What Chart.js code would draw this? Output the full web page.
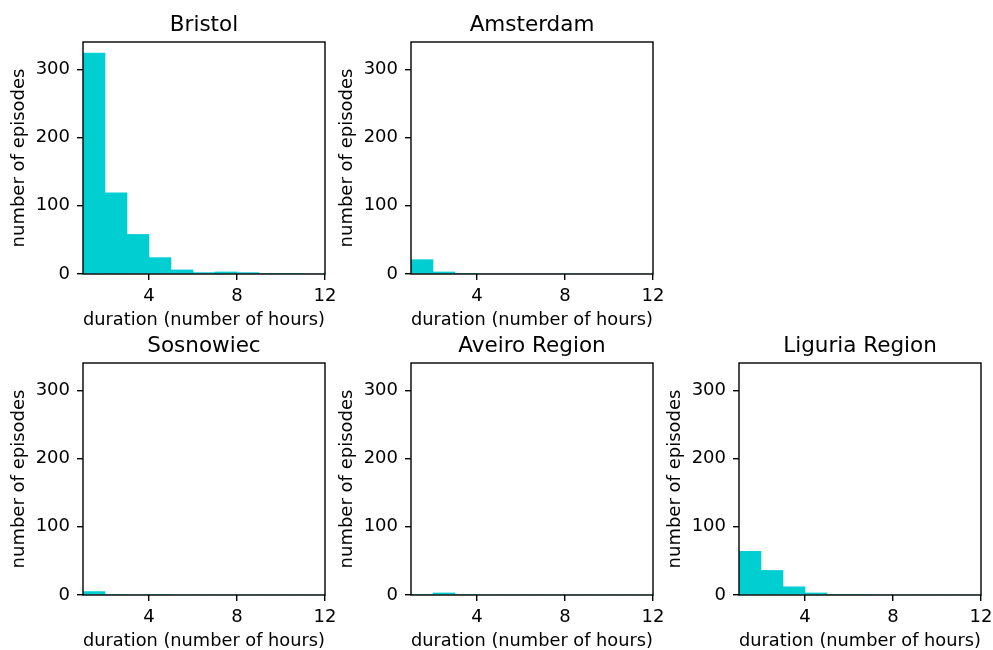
<!DOCTYPE html>
<html>
<head>
<meta charset="utf-8">
<script src="https://cdn.jsdelivr.net/npm/chart.js@4.4.0/dist/chart.umd.min.js"></script>
<style>
  body { margin: 0; background: #fff; width: 993px; height: 650px; overflow: hidden; position: relative; }
  canvas { position: absolute; }
</style>
</head>
<body>
<canvas id="bristol" width="337" height="335" style="left:0px;top:0px"></canvas>
<canvas id="amsterdam" width="337" height="335" style="left:328px;top:0px"></canvas>
<canvas id="sosnowiec" width="337" height="335" style="left:0px;top:321px"></canvas>
<canvas id="aveiro" width="337" height="335" style="left:328px;top:321px"></canvas>
<canvas id="liguria" width="337" height="335" style="left:656px;top:321px"></canvas>
<script>
// histogram bins: 1h wide, from 1 to 12 hours
const binEdges = [1, 2, 3, 4, 5, 6, 7, 8, 9, 10, 11]
const xTicks = [4, 8, 12]
const yTicks = [0, 100, 200, 300]

// number of episodes per bin
const bristol = [324, 119, 58, 24, 6, 2, 3, 2, 1, 1, 0]
const amsterdam = [21, 3, 1, 0, 0, 0, 0, 0, 0, 0, 0]
const sosnowiec = [5, 1, 0, 1, 0, 0, 0, 0, 0, 0, 0]
const aveiro = [1, 3, 1, 0, 0, 0, 0, 0, 0, 0, 0]
const liguria = [64, 36, 12, 3, 1, 1, 0, 0, 0, 0, 0]

const panels = [
  {id: 'bristol', title: 'Bristol', values: bristol},
  {id: 'amsterdam', title: 'Amsterdam', values: amsterdam},
  {id: 'sosnowiec', title: 'Sosnowiec', values: sosnowiec},
  {id: 'aveiro', title: 'Aveiro Region', values: aveiro},
  {id: 'liguria', title: 'Liguria Region', values: liguria}
]

Chart.defaults.font.family = "'DejaVu Sans', sans-serif"
Chart.defaults.color = '#000'

// matplotlib style box round the plot area
let framePlugin = {
  id: 'frame',
  afterDraw(chart) {
    let {ctx, chartArea: a} = chart
    ctx.save()
    ctx.strokeStyle = '#000'
    ctx.lineWidth = 1.4
    ctx.strokeRect(a.left, a.top, a.right - a.left, a.bottom - a.top)
    ctx.restore()
  }
}

let tickGrid = {drawOnChartArea: false, drawTicks: true, tickLength: 6, color: '#000', lineWidth: 1.4, offset: false}

let makePanel = function(p) {
  return new Chart(document.getElementById(p.id), {
    type: 'bar',
    data: {
      datasets: [{
        data: p.values.map((v, i) => ({x: binEdges[i] + 0.5, y: v})),
        backgroundColor: '#00CED1',
        borderWidth: 0,
        barPercentage: 1,
        categoryPercentage: 1
      }]
    },
    options: {
      responsive: false,
      animation: false,
      devicePixelRatio: 1,
      layout: {padding: {top: 0, right: 12, bottom: 0, left: 0}},
      plugins: {
        legend: {display: false},
        tooltip: {enabled: false},
        title: {
          display: true,
          fullSize: false,
          text: p.title,
          color: '#000',
          font: {size: 21.5, weight: 'normal', lineHeight: 1.2},
          padding: {top: 13, bottom: 3.2}
        }
      },
      scales: {
        x: {
          type: 'linear',
          min: 1,
          max: 12,
          offset: false,
          afterBuildTicks: s => { s.ticks = xTicks.map(v => ({value: v})) },
          afterFit: s => { s.height = 61; s.paddingLeft = 0; s.paddingRight = 0 },
          grid: tickGrid,
          border: {display: false},
          ticks: {font: {size: 18}, padding: 6, maxRotation: 0, autoSkip: false},
          title: {
            display: true,
            text: 'duration (number of hours)',
            font: {size: 18, lineHeight: 1.2},
            padding: {top: 0, bottom: 4}
          }
        },
        y: {
          min: 0,
          max: 340.2,
          afterBuildTicks: s => { s.ticks = yTicks.map(v => ({value: v})) },
          afterFit: s => { s.width = 83; s.paddingTop = 0; s.paddingBottom = 0 },
          grid: tickGrid,
          border: {display: false},
          ticks: {font: {size: 18}, padding: 7, autoSkip: false},
          title: {
            display: true,
            text: 'number of episodes',
            font: {size: 18, lineHeight: 1.2},
            padding: {top: 9, bottom: 0}
          }
        }
      }
    },
    plugins: [framePlugin]
  })
}

panels.forEach(p => makePanel(p))
</script>
</body>
</html>
